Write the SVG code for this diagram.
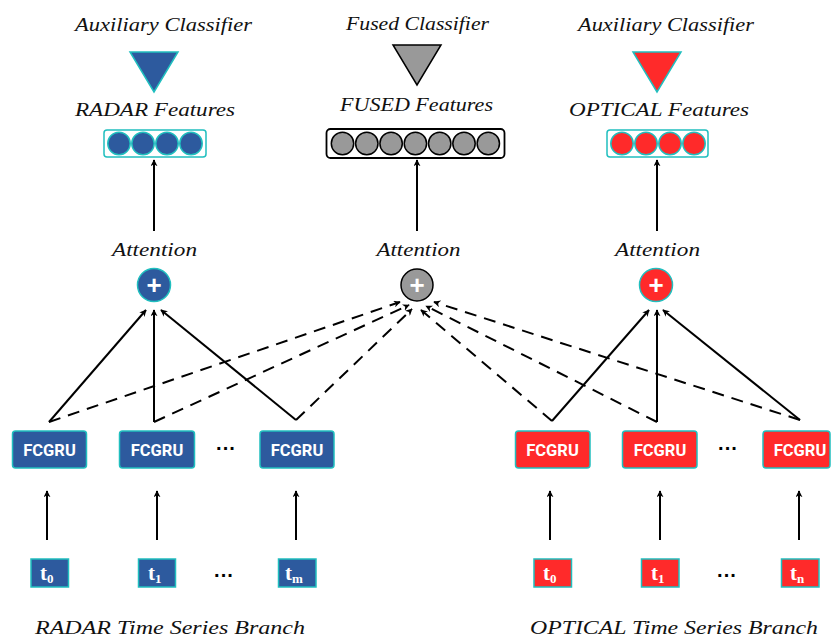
<svg xmlns="http://www.w3.org/2000/svg" width="831" height="637" viewBox="0 0 831 637">
<defs>
<marker id="ah" viewBox="0 0 10 10" refX="9" refY="5" markerWidth="7" markerHeight="7" markerUnits="userSpaceOnUse" orient="auto">
<path d="M0,0 L10,5 L0,10 L3,5 Z" fill="#000"/>
</marker>
<style>
.lbl{font-family:"Liberation Serif","DejaVu Serif",serif;font-style:italic;font-size:18px;fill:#111;text-anchor:middle}
.blue{fill:#2d5a9e;stroke:#20bfbf;stroke-width:1.5}
.red{fill:#ff2a2a;stroke:#20bfbf;stroke-width:1.5}
.gray{fill:#999;stroke:#000;stroke-width:1.5}
.fc{font-family:Roboto,"Liberation Sans",sans-serif;font-weight:bold;font-size:16.5px;fill:#fff;text-anchor:middle}
.tt{font-family:"Liberation Serif","DejaVu Serif",serif;font-weight:bold;font-size:21px;fill:#fff}
.sub{font-size:13px}
.plus{font-family:"Liberation Sans",sans-serif;font-weight:bold;font-size:26px;fill:#fff;text-anchor:middle}
.dots{font-family:"Liberation Sans",sans-serif;font-weight:bold;font-size:20px;fill:#000;text-anchor:middle}
.sol{stroke:#000;stroke-width:2;fill:none;marker-end:url(#ah)}
.dash{stroke:#000;stroke-width:2;fill:none;stroke-dasharray:12,8;marker-end:url(#ah)}
</style>
</defs>

<!-- Top: radar -->
<g id="radar-classifier">
<text class="lbl" x="163.5" y="31" textLength="177" lengthAdjust="spacingAndGlyphs">Auxiliary Classifier</text>
<polygon class="blue" points="130,52 178,52 154,92"/>
</g>
<g id="radar-features">
<text class="lbl" x="155" y="116" textLength="160" lengthAdjust="spacingAndGlyphs">RADAR Features</text>
<rect x="104" y="130" width="102" height="27" rx="3" fill="#fff" stroke="#20bfbf" stroke-width="1.5"/>
<circle class="blue" cx="119" cy="143.5" r="11.2"/>
<circle class="blue" cx="143" cy="143.5" r="11.2"/>
<circle class="blue" cx="167" cy="143.5" r="11.2"/>
<circle class="blue" cx="191" cy="143.5" r="11.2"/>
</g>

<!-- Top: fused -->
<g id="fused-classifier">
<text class="lbl" x="417.5" y="30" textLength="143" lengthAdjust="spacingAndGlyphs">Fused Classifier</text>
<polygon class="gray" points="393,45 441,45 417,85"/>
</g>
<g id="fused-features">
<text class="lbl" x="416.5" y="111" textLength="153" lengthAdjust="spacingAndGlyphs">FUSED Features</text>
<rect x="326.5" y="129" width="178" height="29" rx="4" fill="#fff" stroke="#000" stroke-width="1.8"/>
<circle class="gray" cx="342.5" cy="143.5" r="11.2"/>
<circle class="gray" cx="366.8" cy="143.5" r="11.2"/>
<circle class="gray" cx="391.1" cy="143.5" r="11.2"/>
<circle class="gray" cx="415.4" cy="143.5" r="11.2"/>
<circle class="gray" cx="439.7" cy="143.5" r="11.2"/>
<circle class="gray" cx="464" cy="143.5" r="11.2"/>
<circle class="gray" cx="488.3" cy="143.5" r="11.2"/>
</g>

<!-- Top: optical -->
<g id="optical-classifier">
<text class="lbl" x="666" y="31" textLength="176" lengthAdjust="spacingAndGlyphs">Auxiliary Classifier</text>
<polygon class="red" points="633,52 681,52 657,92"/>
</g>
<g id="optical-features">
<text class="lbl" x="659" y="116" textLength="180" lengthAdjust="spacingAndGlyphs">OPTICAL Features</text>
<rect x="607" y="130" width="101" height="27" rx="3" fill="#fff" stroke="#20bfbf" stroke-width="1.5"/>
<circle class="red" cx="622" cy="143.5" r="11.2"/>
<circle class="red" cx="646" cy="143.5" r="11.2"/>
<circle class="red" cx="670" cy="143.5" r="11.2"/>
<circle class="red" cx="694" cy="143.5" r="11.2"/>
</g>

<!-- Attention nodes -->
<g id="radar-attention">
<text class="lbl" x="154.5" y="256" textLength="85" lengthAdjust="spacingAndGlyphs">Attention</text>
<circle class="blue" cx="154" cy="285" r="16.5"/>
<text class="plus" x="154" y="294">+</text>
</g>
<g id="fused-attention">
<text class="lbl" x="418.5" y="256" textLength="84" lengthAdjust="spacingAndGlyphs">Attention</text>
<circle class="gray" cx="417" cy="285" r="16"/>
<text class="plus" x="417" y="294">+</text>
</g>
<g id="optical-attention">
<text class="lbl" x="657.5" y="256" textLength="85" lengthAdjust="spacingAndGlyphs">Attention</text>
<circle class="red" cx="656" cy="285" r="16.5"/>
<text class="plus" x="656" y="294">+</text>
</g>

<!-- FCGRU nodes radar -->
<g id="radar-fcgru-0"><rect class="blue" x="12.5" y="431" width="74" height="37" rx="3"/><text class="fc" x="49.5" y="456">FCGRU</text></g>
<g id="radar-fcgru-1"><rect class="blue" x="119.5" y="431" width="75" height="37" rx="3"/><text class="fc" x="157" y="456">FCGRU</text></g>
<g id="radar-fcgru-m"><rect class="blue" x="260" y="431" width="74" height="37" rx="3"/><text class="fc" x="297" y="456">FCGRU</text></g>
<text class="dots" x="226" y="455">···</text>

<!-- FCGRU nodes optical -->
<g id="optical-fcgru-0"><rect class="red" x="515.5" y="431" width="74.5" height="37" rx="3"/><text class="fc" x="552.5" y="456">FCGRU</text></g>
<g id="optical-fcgru-1"><rect class="red" x="622.5" y="431" width="74.5" height="37" rx="3"/><text class="fc" x="660" y="456">FCGRU</text></g>
<g id="optical-fcgru-n"><rect class="red" x="763" y="431" width="67" height="37" rx="3"/><text class="fc" x="800" y="456">FCGRU</text></g>
<text class="dots" x="728" y="455">···</text>

<!-- time step inputs radar -->
<g id="radar-t0"><rect class="blue" x="31" y="559" width="37.5" height="28"/><text class="tt" x="40" y="580">t<tspan class="sub" dy="3">0</tspan></text></g>
<g id="radar-t1"><rect class="blue" x="138.5" y="559" width="37" height="28"/><text class="tt" x="148" y="580">t<tspan class="sub" dy="3">1</tspan></text></g>
<g id="radar-tm"><rect class="blue" x="278.5" y="559" width="37.5" height="28"/><text class="tt" x="285" y="580">t<tspan class="sub" dy="3">m</tspan></text></g>
<text class="dots" x="224" y="582">···</text>

<!-- time step inputs optical -->
<g id="optical-t0"><rect class="red" x="534" y="559" width="37.5" height="28"/><text class="tt" x="543" y="580">t<tspan class="sub" dy="3">0</tspan></text></g>
<g id="optical-t1"><rect class="red" x="641.5" y="559" width="37.5" height="28"/><text class="tt" x="651" y="580">t<tspan class="sub" dy="3">1</tspan></text></g>
<g id="optical-tn"><rect class="red" x="781.5" y="559" width="37.5" height="28"/><text class="tt" x="790" y="580">t<tspan class="sub" dy="3">n</tspan></text></g>
<text class="dots" x="727" y="582">···</text>

<!-- Branch labels -->
<text class="lbl" x="170" y="634" textLength="270" lengthAdjust="spacingAndGlyphs">RADAR Time Series Branch</text>
<text class="lbl" x="674" y="634" textLength="288" lengthAdjust="spacingAndGlyphs">OPTICAL Time Series Branch</text>

<!-- Connectors -->
<g id="connectors">
<line class="sol" x1="154" y1="231" x2="154" y2="160"/>
<line class="sol" x1="417" y1="231" x2="417" y2="160"/>
<line class="sol" x1="657" y1="231" x2="657" y2="160"/>
<line class="sol" x1="47" y1="540" x2="47" y2="491"/>
<line class="sol" x1="157" y1="540" x2="157" y2="491"/>
<line class="sol" x1="296" y1="540" x2="296" y2="491"/>
<line class="sol" x1="550" y1="540" x2="550" y2="491"/>
<line class="sol" x1="660" y1="540" x2="660" y2="491"/>
<line class="sol" x1="799" y1="540" x2="799" y2="491"/>
<line class="sol" x1="49" y1="422" x2="146" y2="310"/>
<line class="sol" x1="154" y1="422" x2="154" y2="310"/>
<line class="sol" x1="296" y1="420" x2="161" y2="310"/>
<line class="sol" x1="552" y1="421" x2="649" y2="310"/>
<line class="sol" x1="657" y1="422" x2="657" y2="310"/>
<line class="sol" x1="800" y1="420" x2="663" y2="310"/>
<line class="dash" x1="49" y1="422" x2="400" y2="302"/>
<line class="dash" x1="154" y1="422" x2="409" y2="305"/>
<line class="dash" x1="296" y1="420" x2="412" y2="309"/>
<line class="dash" x1="552" y1="421" x2="421" y2="310"/>
<line class="dash" x1="657" y1="422" x2="426" y2="306"/>
<line class="dash" x1="800" y1="420" x2="434" y2="302"/>
</g>
</svg>
